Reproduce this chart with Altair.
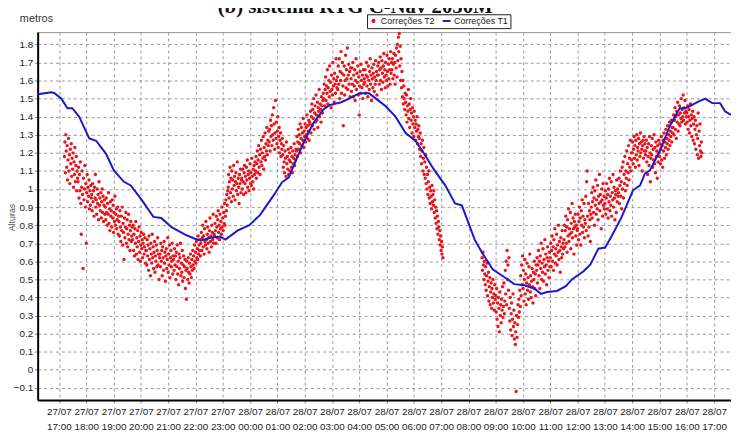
import altair as alt
import pandas as pd

# ---------------- data ----------------
# T1 (blue line): hours since 27/07 00:00, value in metres
t1_hours = [16.22, 16.73, 16.84, 17.09, 17.31, 17.49, 17.74, 18.11, 18.36, 18.72, 19.01, 19.38,
            19.63, 20.03, 20.46, 20.75, 21.11, 21.62, 21.98, 22.20, 22.56, 22.89, 23.10, 23.54,
            23.97, 24.37, 24.87, 25.17, 25.42, 25.60, 25.96, 26.32, 26.69, 26.91, 27.34, 27.63,
            28.00, 28.36, 28.61, 28.97, 29.33, 29.70, 30.06, 30.42, 30.71, 31.15, 31.51, 31.76,
            32.23, 32.49, 32.89, 33.32, 33.68, 34.05, 34.41, 34.66, 34.88, 35.24, 35.57, 35.79,
            36.22, 36.47, 36.76, 37.01, 37.24, 37.60, 38.03, 38.29, 38.47, 38.65, 39.01, 39.38,
            39.74, 39.96, 40.46, 40.68, 40.93, 41.22, 41.40, 41.62]
t1_vals = [1.524, 1.535, 1.53, 1.50, 1.447, 1.447, 1.40, 1.28, 1.267, 1.196, 1.103, 1.04,
           1.02, 0.94, 0.846, 0.84, 0.79, 0.748, 0.725, 0.716, 0.73, 0.737, 0.72, 0.77,
           0.80, 0.857, 0.966, 1.037, 1.065, 1.13, 1.256, 1.365, 1.44, 1.464, 1.48, 1.50,
           1.53, 1.53, 1.50, 1.458, 1.40, 1.31, 1.267, 1.185, 1.114, 1.02, 0.92, 0.91,
           0.72, 0.65, 0.556, 0.512, 0.474, 0.468, 0.45, 0.42, 0.43, 0.436, 0.463, 0.50,
           0.545, 0.583, 0.67, 0.676, 0.737, 0.84, 0.993, 1.02, 1.086, 1.103, 1.21, 1.349,
           1.447, 1.447, 1.486, 1.50, 1.475, 1.475, 1.43, 1.41]

# T2 (red dots): one reading per minute, in centimetres, rows of half an hour
t2a_start = 17.2   # 27/07 17:12
t2a_rows = [
    [118, 126, 109, 130, 121, 112, 124, 105, 116, 128, 110, 119, 103, 122, 114, 125, 107, 117, 111, 120, 101, 115, 108, 123, 104, 113, 118, 99, 110, 106],
    [104, 112, 95, 108, 99, 115, 92, 75, 101, 110, 97, 56, 106, 94, 100, 113, 90, 103, 70, 98, 108, 93, 101, 96, 105, 89, 99, 91, 102, 95],
    [97, 88, 103, 93, 99, 85, 101, 95, 108, 90, 94, 86, 100, 92, 97, 83, 104, 91, 95, 88, 98, 84, 93, 100, 87, 96, 82, 91, 94, 86],
    [90, 83, 95, 87, 80, 92, 86, 98, 81, 89, 77, 93, 85, 88, 79, 94, 84, 91, 76, 87, 82, 96, 80, 86, 89, 78, 83, 90, 75, 85],
    [82, 74, 88, 79, 71, 85, 77, 90, 69, 81, 76, 61, 84, 73, 79, 87, 70, 78, 83, 68, 75, 86, 72, 80, 66, 77, 82, 71, 74, 79],
    [72, 80, 66, 75, 63, 78, 70, 82, 64, 73, 68, 77, 61, 71, 79, 65, 74, 60, 69, 76, 67, 72, 62, 70, 75, 64, 68, 73, 59, 66],
    [66, 58, 72, 63, 69, 55, 74, 61, 67, 52, 70, 64, 59, 75, 62, 68, 56, 65, 71, 54, 63, 60, 69, 57, 66, 73, 58, 64, 50, 62],
    [64, 57, 70, 60, 66, 52, 68, 62, 55, 71, 59, 65, 49, 63, 67, 56, 61, 73, 54, 64, 58, 69, 51, 62, 66, 57, 60, 70, 53, 63],
    [61, 55, 67, 58, 63, 50, 65, 57, 69, 53, 60, 47, 64, 56, 62, 70, 52, 59, 54, 66, 49, 58, 63, 51, 57, 61, 45, 55, 39, 60],
    [56, 50, 62, 54, 48, 59, 53, 64, 57, 51, 61, 55, 66, 58, 63, 56, 69, 60, 65, 59, 71, 62, 67, 61, 74, 64, 69, 66, 72, 63],
    [70, 76, 66, 73, 80, 68, 74, 64, 78, 71, 69, 82, 72, 67, 75, 79, 70, 73, 65, 77, 84, 71, 74, 68, 80, 76, 72, 86, 70, 75],
    [74, 81, 77, 70, 85, 79, 73, 83, 88, 76, 80, 72, 86, 78, 82, 75, 90, 79, 84, 77, 87, 81, 92, 80, 85, 94, 88, 97, 91, 99],
    [101, 108, 95, 104, 112, 98, 106, 93, 110, 100, 105, 96, 113, 102, 107, 94, 104, 109, 99, 103, 115, 97, 106, 101, 92, 108, 103, 111, 98, 105],
    [106, 100, 111, 104, 97, 109, 113, 103, 107, 98, 112, 105, 116, 101, 108, 110, 99, 106, 114, 103, 109, 102, 117, 107, 104, 111, 100, 113, 108, 115],
    [110, 118, 106, 114, 121, 109, 116, 124, 112, 119, 108, 122, 115, 127, 113, 120, 117, 129, 111, 123, 118, 131, 116, 125, 121, 134, 119, 127, 124, 132],
    [126, 133, 121, 138, 129, 135, 124, 141, 130, 127, 145, 136, 122, 131, 149, 128, 137, 125, 132, 140, 123, 129, 134, 120, 127, 131, 118, 125, 122, 128],
    [119, 112, 124, 115, 109, 121, 117, 107, 126, 114, 118, 111, 122, 108, 116, 120, 110, 115, 123, 112, 118, 109, 121, 114, 117, 125, 113, 119, 116, 122],
    [121, 129, 118, 126, 133, 122, 130, 125, 136, 120, 128, 134, 124, 131, 127, 139, 123, 132, 129, 136, 126, 134, 130, 141, 128, 135, 132, 138, 127, 137],
    [136, 143, 131, 140, 147, 135, 144, 139, 150, 133, 142, 146, 137, 152, 141, 138, 148, 134, 145, 143, 155, 140, 147, 144, 137, 151, 146, 142, 149, 153],
    [150, 158, 146, 155, 162, 149, 157, 153, 166, 147, 156, 160, 151, 168, 154, 159, 145, 163, 155, 152, 170, 157, 161, 148, 164, 158, 153, 172, 160, 156],
    [162, 155, 168, 158, 172, 150, 165, 160, 176, 153, 164, 170, 157, 135, 163, 168, 152, 160, 174, 156, 166, 161, 178, 155, 163, 169, 158, 165, 151, 167],
    [161, 154, 167, 158, 170, 151, 163, 157, 166, 149, 160, 172, 155, 164, 159, 168, 152, 162, 141, 157, 165, 153, 169, 160, 156, 163, 150, 166, 158, 161],
    [159, 166, 153, 163, 170, 157, 162, 151, 168, 160, 155, 165, 172, 158, 163, 149, 167, 161, 156, 164, 169, 154, 162, 158, 171, 160, 165, 152, 163, 168],
    [163, 170, 158, 166, 173, 160, 167, 155, 171, 164, 159, 168, 175, 162, 166, 156, 170, 163, 160, 174, 165, 157, 169, 161, 172, 166, 158, 176, 164, 170],
    [166, 172, 161, 169, 175, 163, 170, 158, 174, 167, 178, 162, 180, 171, 184, 176, 186, 168, 179, 160, 172, 156, 165, 151, 160, 147, 157, 150, 144, 153],
    [148, 141, 152, 137, 146, 143, 155, 139, 147, 134, 144, 150, 138, 142, 131, 145, 136, 140, 129, 143, 134, 138, 127, 136, 132, 140, 125, 133, 129, 135],
    [128, 122, 131, 118, 125, 114, 121, 127, 110, 117, 123, 108, 115, 106, 119, 103, 112, 100, 108, 97, 104, 110, 95, 101, 92, 99, 96, 89, 102, 93],
    [97, 91, 99, 87, 94, 84, 90, 81, 88, 78, 85, 75, 82, 79, 72, 77, 69, 74, 66, 71, 64, 68, 62],
]
t2b_start = 32.5   # 28/07 08:30
t2b_rows = [
    [62, 55, 65, 58, 50, 60, 53, 47, 57, 44, 52, 59, 41, 49, 54, 38, 46, 51, 36, 43, 48, 34, 45, 40, 50, 37, 42, 33, 47, 39],
    [41, 32, 45, 28, 37, 24, 40, 34, 21, 43, 30, 36, 26, 39, 33, 46, 29, 35, 48, 31, 38, 55, 42, 60, 36, 66, 50, 58, 44, 62],
    [34, 27, 40, 22, 31, 37, 19, 28, 42, 24, 33, 17, 26, 14, 21, -12, 30, 18, 25, 36, 29, 39, 32, 44, 35, 52, 41, 58, 47, 63],
    [45, 55, 38, 50, 61, 42, 53, 36, 48, 59, 44, 51, 39, 57, 47, 64, 43, 52, 40, 49, 56, 46, 37, 54, 50, 60, 45, 53, 41, 58],
    [55, 62, 48, 58, 66, 52, 60, 45, 63, 56, 70, 50, 59, 54, 67, 49, 61, 57, 72, 53, 64, 58, 47, 62, 68, 55, 60, 51, 65, 57],
    [62, 70, 57, 66, 74, 60, 68, 55, 72, 64, 78, 59, 67, 63, 75, 58, 69, 65, 80, 61, 71, 66, 54, 73, 68, 62, 77, 64, 70, 67],
    [72, 80, 68, 77, 85, 70, 79, 65, 83, 74, 89, 71, 78, 75, 87, 67, 81, 76, 92, 73, 84, 78, 64, 82, 79, 86, 74, 80, 69, 77],
    [78, 86, 72, 82, 90, 75, 84, 69, 88, 80, 94, 76, 85, 79, 92, 73, 83, 81, 96, 77, 104, 110, 85, 74, 92, 79, 88, 83, 71, 86],
    [90, 98, 84, 93, 101, 87, 95, 80, 99, 91, 105, 86, 94, 89, 102, 83, 96, 92, 108, 88, 97, 93, 78, 100, 94, 85, 103, 91, 96, 89],
    [92, 99, 86, 95, 103, 89, 97, 84, 100, 93, 106, 88, 96, 91, 104, 85, 98, 94, 108, 90, 101, 95, 83, 99, 97, 87, 105, 93, 100, 96],
    [98, 106, 92, 102, 110, 96, 104, 89, 112, 100, 115, 95, 108, 103, 118, 99, 110, 106, 121, 102, 114, 109, 124, 105, 117, 112, 127, 110, 120, 116],
    [120, 126, 114, 122, 129, 117, 124, 112, 127, 119, 130, 116, 123, 121, 128, 113, 125, 118, 131, 120, 126, 122, 110, 124, 127, 117, 129, 121, 125, 119],
    [121, 127, 115, 123, 108, 118, 125, 113, 129, 120, 104, 117, 124, 119, 128, 112, 122, 116, 130, 114, 123, 109, 126, 118, 121, 106, 124, 115, 127, 120],
    [118, 125, 114, 122, 129, 116, 124, 112, 127, 121, 131, 117, 126, 123, 133, 119, 128, 125, 135, 122, 130, 127, 137, 124, 132, 129, 138, 126, 134, 131],
    [134, 141, 130, 138, 145, 133, 140, 128, 143, 137, 148, 132, 141, 136, 146, 135, 142, 139, 150, 137, 144, 140, 152, 138, 145, 142, 149, 136, 143, 140],
    [142, 137, 146, 133, 140, 144, 131, 138, 147, 135, 141, 129, 139, 143, 127, 136, 140, 125, 133, 138, 122, 130, 135, 119, 128, 142, 117, 132, 124, 136, 121, 118, 126, 120],
]

x_ticks = [17, 18, 19, 20, 21, 22, 23, 24, 25, 26, 27, 28, 29, 30, 31, 32, 33, 34, 35, 36, 37, 38, 39, 40, 41]
y_ticks = [-0.1, 0, 0.1, 0.2, 0.3, 0.4, 0.5, 0.6, 0.7, 0.8, 0.9, 1, 1.1, 1.2, 1.3, 1.4, 1.5, 1.6, 1.7, 1.8]
series = ["Correções T2", "Correções T1"]
colors = ["#e8161c", "#1a1ac8"]
title_text = "(b) sistema RTG C-Nav 2050M"

# ---------------- tables ----------------
rec = []
for start, rows in [(t2a_start, t2a_rows), (t2b_start, t2b_rows)]:
    for r, row in enumerate(rows):
        for j, v in enumerate(row):
            rec.append({"h": start + 0.5 * r + j / 60.0, "v": v / 100.0, "serie": series[0]})
df2 = pd.DataFrame(rec)
df1 = pd.DataFrame({"h": t1_hours, "v": t1_vals, "serie": series[1]})

label_expr = ("[datum.value < 24 ? '27/07' : '28/07', "
              "(datum.value % 24 < 10 ? '0' : '') + (datum.value % 24) + ':00']")

x = alt.X("h:Q",
          scale=alt.Scale(domain=[16.22, 41.62], nice=False, zero=False),
          axis=alt.Axis(values=x_ticks, labelExpr=label_expr, title=None,
                        labelOverlap=False, labelFlush=False, labelBaseline="top",
                        labelLineHeight=15, labelPadding=4))
y = alt.Y("v:Q",
          scale=alt.Scale(domain=[-0.167, 1.868], nice=False, zero=False),
          axis=alt.Axis(values=y_ticks, format=".1~f", title="Alturas",
                        titleX=-26, titleY=187, titleAngle=-90, titleBaseline="middle",
                        titleAlign="center", titleFontSize=9, titleFontWeight="normal",
                        titleColor="#555", labelPadding=2))
is_t1 = "datum.label == 'Correções T1'"
color = alt.Color("serie:N",
                  scale=alt.Scale(domain=series, range=colors),
                  legend=alt.Legend(title=None, orient="none", legendX=333, legendY=-18,
                                    direction="horizontal", fillColor="white",
                                    strokeColor="#222", padding=2, labelFontSize=9,
                                    labelFont="Liberation Sans", labelColor="#222",
                                    labelOffset=3, columnPadding=3,
                                    symbolSize=alt.ExprRef(expr=is_t1 + " ? 64 : 5"),
                                    symbolStrokeWidth=2,
                                    symbolType=alt.ExprRef(expr=is_t1 + " ? 'stroke' : 'circle'")))

points = alt.Chart(df2).mark_circle(size=12, opacity=1).encode(x=x, y=y, color=color)
line = alt.Chart(df1).mark_line(strokeWidth=2).encode(x=x, y=y, color=color)

title = alt.Chart(pd.DataFrame({"t": [title_text]})).mark_text(
    font="Liberation Serif", fontSize=21, fontWeight="bold", align="center",
    baseline="alphabetic", color="#111").encode(text="t:N", x=alt.value(321), y=alt.value(-19))
metros = alt.Chart(pd.DataFrame({"t": ["metros"]})).mark_text(
    font="Liberation Sans", fontSize=11, align="left", baseline="middle",
    color="#333").encode(text="t:N", x=alt.value(-18), y=alt.value(-13))

chart = alt.layer(points, line, title, metros).properties(
    width=701, height=372,
    autosize=alt.AutoSizeParams(type="none"),
    padding={"left": 30, "top": 22, "right": 0, "bottom": 30},
).configure_view(stroke="#999", strokeWidth=1).configure_axis(
    labelFont="Liberation Sans", labelFontSize=10, labelColor="#222",
    titleFont="Liberation Sans",
    domainColor="#000", domainWidth=2,
    tickColor="#777", tickSize=3,
    gridColor="#999", gridDash=[3, 3], gridWidth=1, gridOpacity=1,
)

chart.save("out.html", embed_options={"renderer": "svg", "actions": False})
